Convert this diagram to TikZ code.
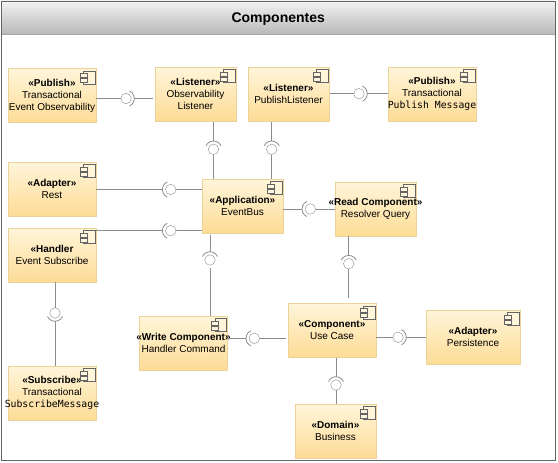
\documentclass[tikz,border=0pt]{standalone}
\usepackage{fontspec}
\setmainfont{Liberation Sans}
\newfontfamily\monofont{DejaVu Sans Mono}
\usetikzlibrary{calc, positioning}
\definecolor{boxTop}{RGB}{255, 245, 218}
\definecolor{boxBottom}{RGB}{253, 220, 150}
\definecolor{boxEdge}{RGB}{235, 210, 150}
\definecolor{wireGray}{RGB}{140, 140, 140}
\definecolor{frameGray}{RGB}{100, 100, 100}
\tikzset{
  comp/.style={draw=boxEdge, top color=boxTop, bottom color=boxBottom, minimum width=81pt, minimum height=54pt,
    inner sep=0pt, align=center, font=\fontsize{10}{12}\selectfont, execute at begin node={\rule{0pt}{10.5pt}}},
  compwide/.style={comp, minimum width=88pt},
  ball/.style={circle, draw=wireGray, fill=white, minimum size=10.5pt, inner sep=0pt},
  wire/.style={draw=wireGray, line width=0.9pt},
  sockline/.style={draw=wireGray, line width=0.8pt},
  compicon/.pic={
    \draw[draw=frameGray, fill=boxTop, line width=0.7pt] (-12.7,2.7) rectangle (-1.3,15.7);
    \draw[draw=frameGray, fill=boxTop, line width=0.7pt] (-16,5.3) rectangle (-9.3,9.3);
    \draw[draw=frameGray, fill=boxTop, line width=0.7pt] (-16,10.3) rectangle (-9.3,14.3);
  }
}
\newcommand{\sockarc}[2]{\draw[sockline] ($(#1)+(#2-65:8.3pt)$) arc[start angle=#2-65, end angle=#2+65, radius=8.3pt];}
\newcommand{\wideline}[1]{\makebox[60pt][c]{#1}}
\begin{document}
\begin{tikzpicture}[x=1pt, y=-1pt]
  \useasboundingbox (0,0) rectangle (558,463);
  % frame and title
  \node[draw=none, top color=gray!10, bottom color=gray!55, minimum width=553pt, minimum height=33pt, inner sep=0pt,
    font=\fontsize{14}{16}\selectfont\bfseries] (titlebar) at (278.25,17.5) {\rule{0pt}{13pt}Componentes};
  \draw[draw=gray!70, line width=0.9pt] (titlebar.south west) -- (titlebar.south east);
  \draw[draw=frameGray, line width=0.9pt] (1.5,1) rectangle (555,460.5);

  % components
  \node[compwide] (pubObs) at (52,95.5) {\textbf{«Publish»}\\Transactional\\Event Observability};
  \node[comp] (lisObs) at (195.5,94) {\textbf{«Listener»}\\Observability\\Listener};
  \node[comp] (lisPub) at (288.5,94) {\textbf{«Listener»}\\PublishListener};
  \node[compwide] (pubMsg) at (432,94) {\textbf{«Publish»}\\Transactional\\\wideline{\monofont\fontsize{9.8}{12}\selectfont Publish Message}};
  \node[compwide] (adpRest) at (52,189) {\textbf{«Adapter»}\\Rest};
  \node[comp] (appBus) at (242.5,206) {\textbf{«Application»}\\EventBus};
  \node[comp] (readQuery) at (375.5,209) {\wideline{\textbf{«Read Component»}}\\Resolver Query};
  \node[compwide] (hdlEvent) at (52,255) {\textbf{«Handler}\\Event Subscribe};
  \node[compwide] (writeCmd) at (183.5,343) {\wideline{\textbf{«Write Component»}}\\Handler Command};
  \node[compwide] (subMsg) at (52,393) {\textbf{«Subscribe»}\\Transactional\\\wideline{\monofont\fontsize{9.8}{12}\selectfont SubscribeMessage}};
  \node[compwide] (useCase) at (332,330.5) {\textbf{«Component»}\\Use Case};
  \node[comp, minimum width=94pt] (adpPersist) at (473,337) {\textbf{«Adapter»}\\Persistence};
  \node[comp] (domBiz) at (335.5,431) {\textbf{«Domain»}\\Business};
  \foreach \n in {pubObs, lisObs, lisPub, pubMsg, adpRest, appBus, readQuery, hdlEvent, writeCmd, subMsg, useCase, adpPersist, domBiz}
    \pic at (\n.north east) {compicon};

  % interfaces
  \node[ball] (ballObs) at (126,98.5) {};
  \node[ball] (ballPub) at (359,93.7) {};
  \node[ball] (ballLisObs) at (213.5,149.3) {};
  \node[ball] (ballLisPub) at (271.7,149.3) {};
  \node[ball] (ballRest) at (170.7,189.5) {};
  \node[ball] (ballHdl) at (170.7,230.7) {};
  \node[ball] (ballRead) at (310.3,209) {};
  \node[ball] (ballWrite) at (210,260) {};
  \node[ball] (ballQuery) at (348.7,263.7) {};
  \node[ball] (ballSub) at (55,313) {};
  \node[ball] (ballCmd) at (254.3,338.3) {};
  \node[ball] (ballPersist) at (398,337.3) {};
  \node[ball] (ballDom) at (336,385) {};

  \sockarc{ballObs}{0}
  \sockarc{ballPub}{0}
  \sockarc{ballLisObs}{90}
  \sockarc{ballLisPub}{90}
  \sockarc{ballRest}{180}
  \sockarc{ballHdl}{180}
  \sockarc{ballRead}{180}
  \sockarc{ballWrite}{90}
  \sockarc{ballQuery}{90}
  \sockarc{ballSub}{-90}
  \sockarc{ballCmd}{180}
  \sockarc{ballPersist}{0}
  \sockarc{ballDom}{90}

  % connectors
  \draw[wire] (pubObs.east |- ballObs) -- (ballObs.west);
  \draw[wire, shorten <=3pt, shorten >=2pt] (ballObs.east) -- (lisObs.west |- ballObs);
  \draw[wire, shorten <=1pt] (lisPub.east |- ballPub) -- (ballPub.west);
  \draw[wire, shorten <=3pt] (ballPub.east) -- (pubMsg.west |- ballPub);
  \draw[wire, shorten <=1pt, shorten >=3pt] (lisObs.south -| ballLisObs) -- (ballLisObs.north);
  \draw[wire] (ballLisObs.south) -- (appBus.north -| ballLisObs);
  \draw[wire, shorten <=1pt, shorten >=3pt] (lisPub.south -| ballLisPub) -- (ballLisPub.north);
  \draw[wire] (ballLisPub.south) -- (appBus.north -| ballLisPub);
  \draw[wire, shorten >=3pt] (adpRest.east |- ballRest) -- (ballRest.west);
  \draw[wire] (ballRest.east) -- (appBus.west |- ballRest);
  \draw[wire, shorten >=3pt] (hdlEvent.east |- ballHdl) -- (ballHdl.west);
  \draw[wire] (ballHdl.east) -- (appBus.west |- ballHdl);
  \draw[wire, shorten >=3pt] (appBus.east |- ballRead) -- (ballRead.west);
  \draw[wire] (ballRead.east) -- (readQuery.west |- ballRead);
  \draw[wire, shorten <=1.5pt, shorten >=3pt] (appBus.south -| ballWrite) -- (ballWrite.north);
  \draw[wire, shorten <=3pt] (ballWrite.south) -- (writeCmd.north -| ballWrite);
  \draw[wire, shorten >=3pt] (readQuery.south -| ballQuery) -- (ballQuery.north);
  \draw[wire, shorten >=5pt] (ballQuery.south) -- (useCase.north -| ballQuery);
  \draw[wire] (hdlEvent.south -| ballSub) -- (ballSub.north);
  \draw[wire, shorten <=3pt] (ballSub.south) -- (subMsg.north -| ballSub);
  \draw[wire, shorten >=3pt] (writeCmd.east |- ballCmd) -- (ballCmd.west);
  \draw[wire, shorten >=2pt] (ballCmd.east) -- (useCase.west |- ballCmd);
  \draw[wire] (useCase.east |- ballPersist) -- (ballPersist.west);
  \draw[wire, shorten <=3pt] (ballPersist.east) -- (adpPersist.west |- ballPersist);
  \draw[wire, shorten >=3pt] (useCase.south -| ballDom) -- (ballDom.north);
  \draw[wire] (ballDom.south) -- (domBiz.north -| ballDom);
\end{tikzpicture}
\end{document}
